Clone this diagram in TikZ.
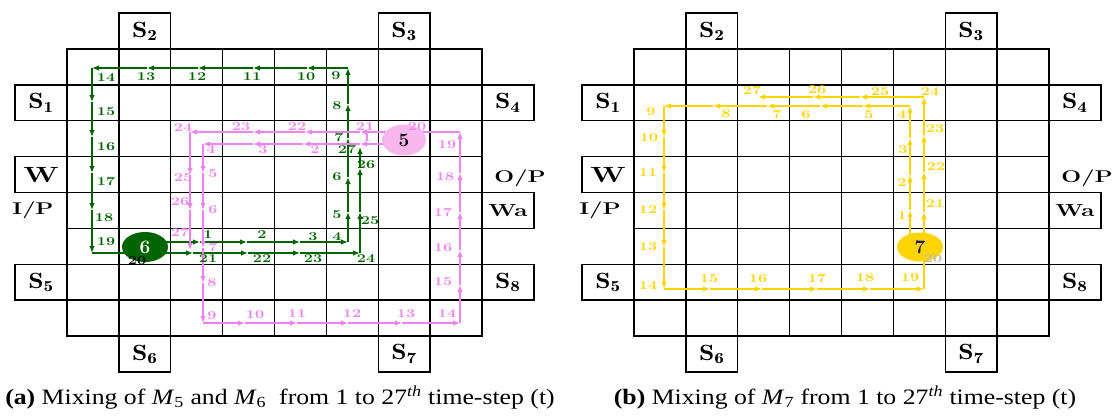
\documentclass[tikz,border=0pt]{standalone}
\usepackage{fontspec}
\usepackage{graphicx}
\newfontfamily\capfont{Liberation Serif}
\usetikzlibrary{arrows.meta,shapes.geometric}
\definecolor{gcol}{RGB}{0,100,0}
\definecolor{pcol}{RGB}{238,130,238}
\definecolor{ycol}{RGB}{255,212,0}
\definecolor{pfill}{RGB}{246,182,238}
\definecolor{navy}{RGB}{25,25,112}
\definecolor{greyl}{RGB}{185,185,185}
\newcommand\hs[2][1.35]{\scalebox{#1}[1]{#2}}
\newcommand\slab[1]{\hs[1.25]{$\mathbf{S_{#1}}$}}
\tikzset{
  gl/.style={line width=1.4pt, black, line cap=rect},
  sbox/.style={draw, line width=1.4pt, minimum width=51.875pt, minimum height=35.875pt, inner sep=0pt, font=\bfseries\fontsize{22}{22}\selectfont},
  plain/.style={inner sep=0pt, font=\bfseries\fontsize{17}{17}\selectfont},
  stepline/.style={line width=1.3pt, -{Latex[length=7pt,width=5.5pt]}},
  grnline/.style={stepline, gcol},
  pnkline/.style={stepline, pcol},
  ylwline/.style={stepline, ycol},
  num/.style={inner sep=0pt, font=\bfseries\fontsize{12}{12}\selectfont},
  drop/.style={ellipse, inner sep=0pt, minimum width=46pt, minimum height=30pt, font=\bfseries\fontsize{19}{19}\selectfont},
  caption/.style={anchor=base, inner sep=0pt, font=\capfont\fontsize{22}{22}\selectfont},
}
\newcommand\board[2]{%
  \foreach \k in {0,...,8}{%
    \draw[gl] ({#2+51.875*\k},49) -- ({#2+51.875*\k},336);
    \draw[gl] (#2,{49+35.875*\k}) -- ({#2+415},{49+35.875*\k});
  }
  \node[sbox] (#1S2) at ({#2+77.8},31) {\slab{2}};
  \node[sbox] (#1S3) at ({#2+337.2},31) {\slab{3}};
  \node[sbox] (#1S1) at ({#2-25.94},102.8) {\slab{1}};
  \node[sbox] (#1S4) at ({#2+440.94},102.8) {\slab{4}};
  \node[sbox] (#1W) at ({#2-25.94},174.6) {\hs[1.38]{W}};
  \node[sbox] (#1Wa) at ({#2+440.94},210.4) {\hs[1.38]{\fontsize{17.5}{17.5}\selectfont Wa}};
  \node[sbox] (#1S5) at ({#2-25.94},282.2) {\slab{5}};
  \node[sbox] (#1S8) at ({#2+440.94},282.2) {\slab{8}};
  \node[sbox] (#1S6) at ({#2+77.8},354) {\slab{6}};
  \node[sbox] (#1S7) at ({#2+337.2},354) {\slab{7}};
  \node[plain] (#1IP) at ({#2-34},210) {\hs[1.38]{I/P}};
  \node[plain] (#1OP) at ({#2+453},178) {\hs[1.38]{O/P}};
}
\newcommand\route[2]{\foreach \curpt [count=\cnt, remember=\curpt as \prevpt] in {#2} {\ifnum\cnt>1 \draw[#1] \prevpt -- \curpt;\fi}}
\newcommand\nums[3]{\foreach \lab/\xx/\yy in {#3} {\node[num, text=#2] (#1\lab) at (\xx,\yy) {\hs{\lab}};}}
\begin{document}
\begin{tikzpicture}[x=1pt,y=-1pt]
\useasboundingbox (0,0) rectangle (1118,415);
\board{a}{67}
\board{b}{634}
% green route (M6)
\route{grnline}{(145,242),(200,242),(247,242),(300,242),(348,242),(348,212),(348,177),(348,138),(348,104),(348,68),(307,68),(253,68),(198,68),(147,68),(92,68),(92,102),(92,137),(92,173),(92,210),(92,253),(145,253),(193,253),(248,253),(300,253),(360,253),(360,212),(360,168),(360,147)}
% pink route (M5)
\route{pnkline}{(404,144),(360,144),(303,144),(253,144),(203,144),(203,173),(203,210),(203,248),(203,283),(203,323),(245,323),(297,323),(348,323),(402,323),(460,323),(460,285),(460,250),(460,212),(460,173),(460,132),(404,132),(360,132),(305,132),(253,132),(190,132),(190,175),(190,210),(190,250)}
% yellow route (M7)
\route{ylwline}{(910,247),(910,210),(910,175),(910,138),(910,106),(863,106),(820,106),(767,106),(713,106),(664,106),(664,137),(664,173),(664,210),(664,247),(664,289),(710,289),(762,289),(817,289),(870,289),(924,289),(924,247),(924,212),(924,172),(924,135),(924,97),(860,97),(813,97),(758,97)}
% droplets
\node[drop, fill=gcol, text=white] (d6) at (145,247) {6};
\node[drop, fill=pfill, text=black, minimum width=44pt, minimum height=31pt] (d5) at (404,140) {5};
\node[drop, fill=ycol, text=navy, minimum height=29pt] (d7) at (920,247) {7};
% step labels
\nums{g}{gcol}{1/208/235,2/262/235,3/313/237,4/337/237,5/337/215,6/337/177,7/339/138,8/337/106,9/336/76,10/306/77,11/252/77,12/197/77,13/146/77,14/106/78,15/106/112,16/106/147,17/106/182,18/104/218,19/106/242,21/208/259,22/262/259,23/313/259,24/366/259,25/370/221,26/366/165,27/347/150}
\node[num, text=black] (g20) at (137,261) {\hs{20}};
\nums{p}{pcol}{1/367/138,2/315/150,3/263/150,4/211/150,5/213/174,6/213/210,7/213/248,8/212/283,9/212/316,10/255/315,11/297/314,12/352/314,13/406/314,14/447/314,15/443/282,16/443/248,17/443/213,18/445/177,19/447/145,20/417/127,21/365/127,22/297/127,23/241/127,24/183/128,25/183/178,26/180/202,27/180/233}
\nums{y}{ycol}{1/902/216,2/902/183,3/903/150,4/902/115,5/869/115,6/806/115,7/777/115,8/726/114,9/651/112,10/649/138,11/648/173,12/648/210,13/648/247,14/648/286,15/709/279,16/758/279,17/817/279,18/865/278,19/910/278,21/935/204,22/936/167,23/935/129,24/930/92,25/880/92,26/817/90,27/752/91}
\node[num, text=greyl] (y20) at (933,259) {\hs{20}};
% captions
\node[caption] (capa) at (280,404) {\hs[1.17]{\textbf{(a)} Mixing of \textit{M}\textsubscript{5} and \textit{M}\textsubscript{6}\ \ from 1 to 27\textsuperscript{\textit{th}} time-step (t)}};
\node[caption] (capb) at (845,404) {\hs[1.17]{\textbf{(b)} Mixing of \textit{M}\textsubscript{7} from 1 to 27\textsuperscript{\textit{th}} time-step (t)}};
\end{tikzpicture}
\end{document}
